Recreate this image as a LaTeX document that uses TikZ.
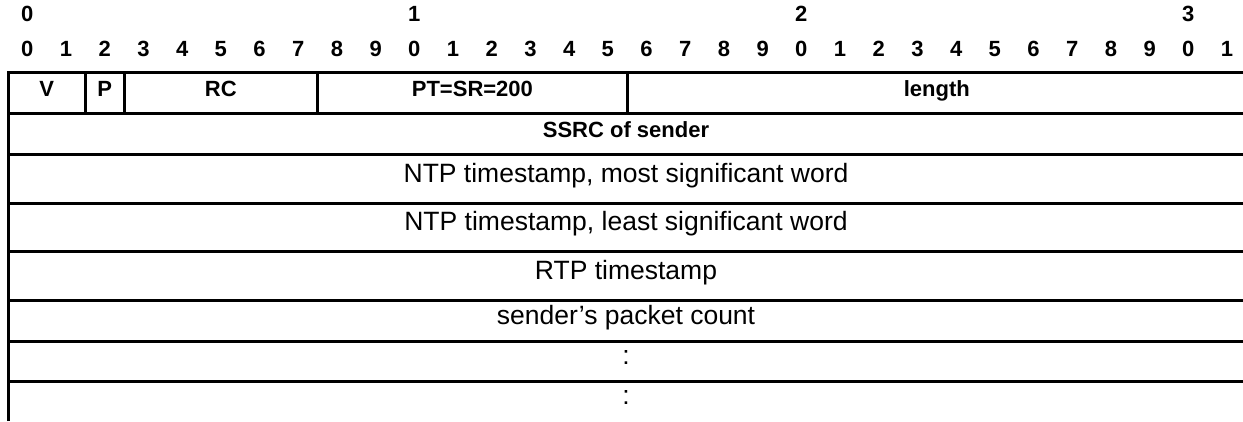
\documentclass[tikz,border=0pt]{standalone}
\usepackage{fontspec}
\setmainfont{Liberation Sans}
\begin{document}
\begin{tikzpicture} [x=1pt,y=-1pt,line width=3pt,
		hdr/.style={font=\fontsize{22}{22}\selectfont\bfseries,inner sep=0pt,text height=0.72em,text depth=0pt},
		fld/.style={font=\fontsize{26.5}{26.5}\selectfont,inner sep=0pt,text height=0.72em,text depth=0pt}]
		\useasboundingbox (0,0) rectangle (1243,421);
		\node [hdr] (ten0) at (27.35,18) {0};
		\node [hdr] (ten1) at (414.35,18) {1};
		\node [hdr] (ten2) at (801.35,18) {2};
		\node [hdr] (ten3) at (1188.35,18) {3};
		\foreach \b in {0,...,31} {
			\pgfmathtruncatemacro{\d}{mod(\b,10)}
			\node [hdr] (bit\b) at (27.35+38.7*\b,53) {\d};
		}
		\draw (8,421) -- (8,72) -- (1243,72);
		\draw (8,113) -- (1243,113);
		\draw (8,154) -- (1243,154);
		\draw (8,203) -- (1243,203);
		\draw (8,251) -- (1243,251);
		\draw (8,300) -- (1243,300);
		\draw (8,341) -- (1243,341);
		\draw (8,381) -- (1243,381);
		\draw (85.4,72) -- (85.4,113);
		\draw (124.1,72) -- (124.1,113);
		\draw (317.6,72) -- (317.6,113);
		\draw (627.2,72) -- (627.2,113);
		\node [hdr] (v) at (46.7,92.5) {V};
		\node [hdr] (p) at (104.75,92.5) {P};
		\node [hdr] (rc) at (220.85,92.5) {RC};
		\node [hdr] (pt) at (472.4,92.5) {PT=SR=200};
		\node [hdr] (len) at (936.8,92.5) {length};
		\node [hdr] (ssrc) at (626,133.5) {SSRC of sender};
		\node [fld] (ntpmsw) at (626,178.5) {NTP timestamp, most significant word};
		\node [fld] (ntplsw) at (626,227) {NTP timestamp, least significant word};
		\node [fld] (rtpts) at (626,275.5) {RTP timestamp};
		\node [fld] (pktcnt) at (626,320.5) {sender’s packet count};
		\node [fld] (more1) at (626,361) {:};
		\node [fld] (more2) at (626,401) {:};
	\end{tikzpicture}
\end{document}
